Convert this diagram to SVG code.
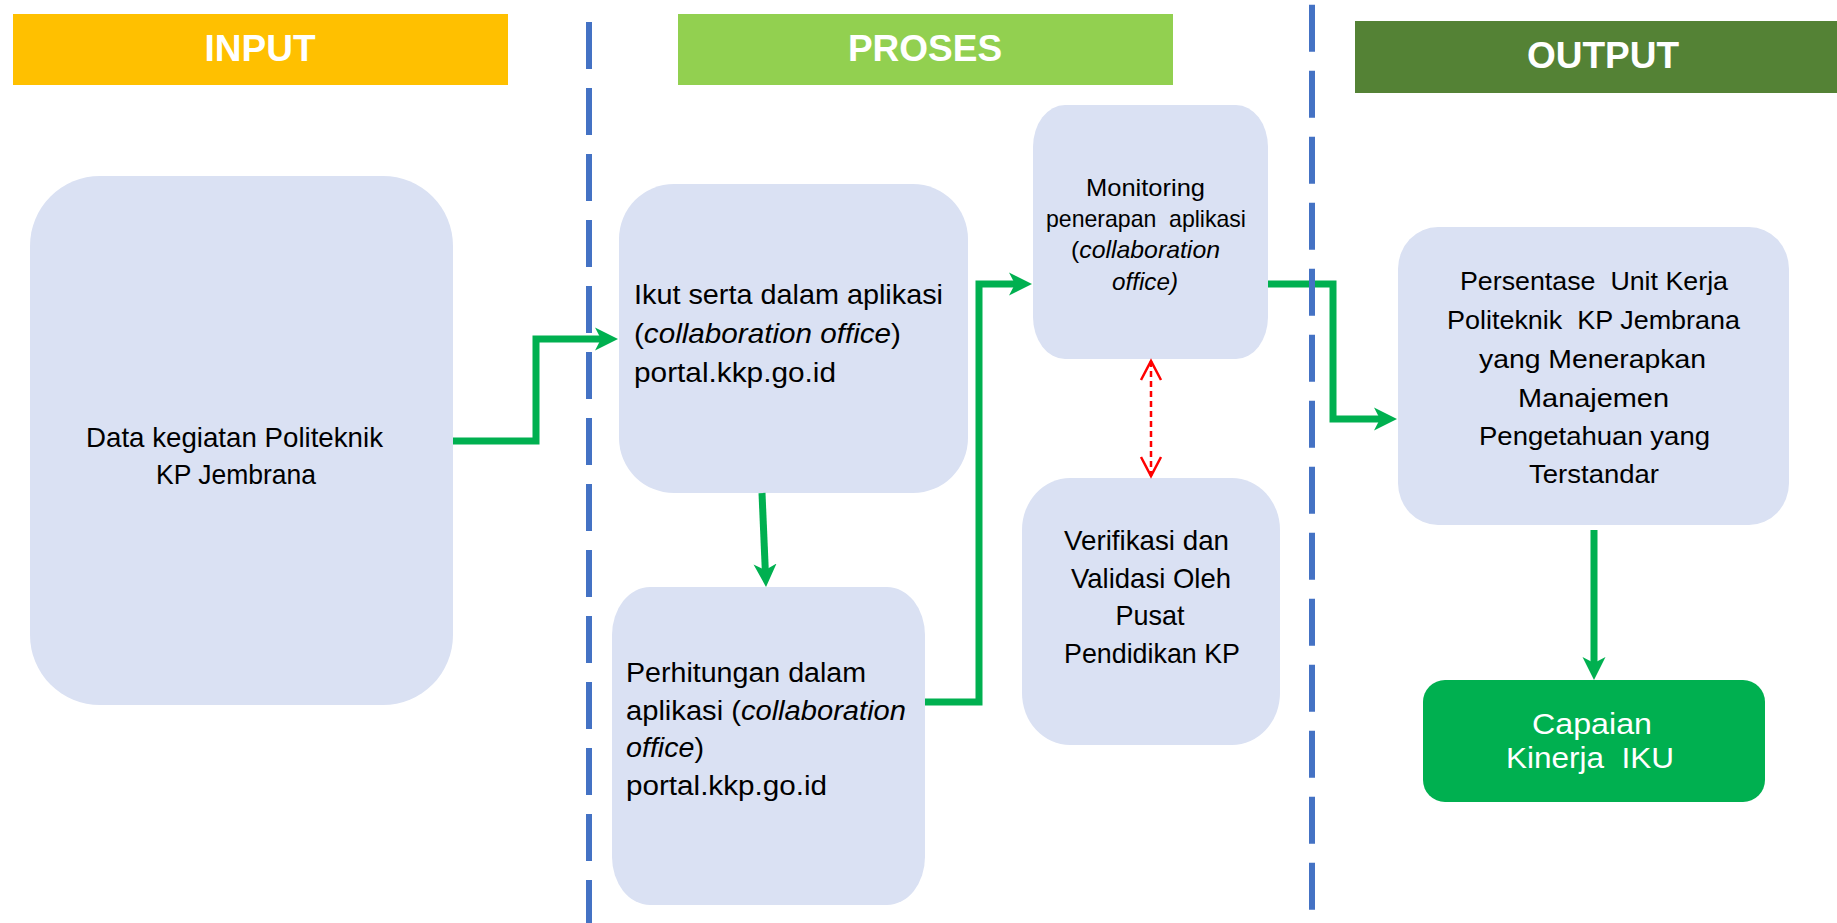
<svg xmlns="http://www.w3.org/2000/svg" width="1837" height="923" viewBox="0 0 1837 923">
<defs>
<style>
.node{fill:#DAE1F3}
.t{font-family:"Liberation Sans",Arial,sans-serif;fill:#000}
.hd{font-family:"Liberation Sans",Arial,sans-serif;font-weight:bold;font-size:37px;fill:#fff;text-anchor:middle}
.c{text-anchor:middle}
.i{font-style:italic}
.w{fill:#fff}
.conn{fill:none;stroke:#00B050;stroke-width:7;stroke-linejoin:miter}
.red{fill:none;stroke:#FF0000;stroke-width:2.5;stroke-dasharray:6 4}
.div{stroke:#4472C4;stroke-width:6;stroke-dasharray:47 19}
</style>
<marker id="ga" markerUnits="userSpaceOnUse" markerWidth="24" markerHeight="24" viewBox="0 0 24 24" refX="11" refY="12" orient="auto">
<path d="M0,0.5 L23,12 L0,23.5 L6,12 Z" fill="#00B050"/>
</marker>
<marker id="ra" markerUnits="userSpaceOnUse" markerWidth="24" markerHeight="24" viewBox="0 0 24 24" refX="20" refY="12" orient="auto-start-reverse">
<path d="M1,2 L20,12 L1,22" fill="none" stroke="#FF0000" stroke-width="2.5"/>
</marker>
</defs>
<rect width="1837" height="923" fill="#fff"/>

<g id="header-input">
<rect x="13" y="14" width="495" height="71" fill="#FFC000"/>
<text class="hd" x="260" y="61">INPUT</text>
</g>
<g id="header-proses">
<rect x="678" y="14" width="495" height="71" fill="#92D050"/>
<text class="hd" x="925" y="61">PROSES</text>
</g>
<g id="header-output">
<rect x="1355" y="21" width="482" height="72" fill="#548235"/>
<text class="hd" x="1603" y="68">OUTPUT</text>
</g>

<g id="node-input">
<rect class="node" x="30" y="176" width="423" height="529" rx="70" ry="70"/>
<text class="t c" font-size="28" x="234.5" y="447" textLength="297" lengthAdjust="spacingAndGlyphs">Data kegiatan Politeknik</text>
<text class="t c" font-size="28" x="236" y="484" textLength="160" lengthAdjust="spacingAndGlyphs">KP Jembrana</text>
</g>

<g id="node-ikut">
<rect class="node" x="619" y="184" width="349" height="309" rx="55" ry="55"/>
<text class="t" font-size="27.5" x="634" y="304" textLength="309" lengthAdjust="spacingAndGlyphs">Ikut serta dalam aplikasi</text>
<text class="t" font-size="27.5" x="634" y="343" textLength="267" lengthAdjust="spacingAndGlyphs">(<tspan class="i">collaboration office</tspan>)</text>
<text class="t" font-size="27.5" x="634" y="382" textLength="202" lengthAdjust="spacingAndGlyphs">portal.kkp.go.id</text>
</g>

<g id="node-perhitungan">
<rect class="node" x="612" y="587" width="313" height="318" rx="38" ry="48"/>
<text class="t" font-size="27" x="626" y="682" textLength="240" lengthAdjust="spacingAndGlyphs">Perhitungan dalam</text>
<text class="t" font-size="27" x="626" y="720" textLength="280" lengthAdjust="spacingAndGlyphs">aplikasi (<tspan class="i">collaboration</tspan></text>
<text class="t" font-size="27" x="626" y="757" textLength="78" lengthAdjust="spacingAndGlyphs"><tspan class="i">office</tspan>)</text>
<text class="t" font-size="27" x="626" y="795" textLength="201" lengthAdjust="spacingAndGlyphs">portal.kkp.go.id</text>
</g>

<g id="node-monitoring">
<rect class="node" x="1033" y="105" width="235" height="254" rx="32" ry="42"/>
<text class="t c" font-size="24" x="1145.5" y="196" textLength="119" lengthAdjust="spacingAndGlyphs">Monitoring</text>
<text class="t c" font-size="24" x="1146" y="227" textLength="200" lengthAdjust="spacingAndGlyphs">penerapan&#160; aplikasi</text>
<text class="t c" font-size="24" x="1145.5" y="258" textLength="149" lengthAdjust="spacingAndGlyphs">(<tspan class="i">collaboration</tspan></text>
<text class="t c i" font-size="24" x="1145" y="290" textLength="66" lengthAdjust="spacingAndGlyphs">office)</text>
</g>

<g id="node-verifikasi">
<rect class="node" x="1022" y="478" width="258" height="267" rx="48" ry="52"/>
<text class="t c" font-size="28" x="1146.5" y="550" textLength="165" lengthAdjust="spacingAndGlyphs">Verifikasi dan</text>
<text class="t c" font-size="28" x="1151" y="588" textLength="160" lengthAdjust="spacingAndGlyphs">Validasi Oleh</text>
<text class="t c" font-size="28" x="1150" y="625" textLength="69" lengthAdjust="spacingAndGlyphs">Pusat</text>
<text class="t c" font-size="28" x="1152" y="663" textLength="176" lengthAdjust="spacingAndGlyphs">Pendidikan KP</text>
</g>

<g id="node-persentase">
<rect class="node" x="1398" y="227" width="391" height="298" rx="40" ry="42"/>
<text class="t c" font-size="26.5" x="1594" y="290" textLength="268" lengthAdjust="spacingAndGlyphs">Persentase&#160; Unit Kerja</text>
<text class="t c" font-size="26.5" x="1593.5" y="329" textLength="293" lengthAdjust="spacingAndGlyphs">Politeknik&#160; KP Jembrana</text>
<text class="t c" font-size="26.5" x="1592.5" y="368" textLength="227" lengthAdjust="spacingAndGlyphs">yang Menerapkan</text>
<text class="t c" font-size="26.5" x="1593.5" y="407" textLength="151" lengthAdjust="spacingAndGlyphs">Manajemen</text>
<text class="t c" font-size="26.5" x="1594.5" y="445" textLength="231" lengthAdjust="spacingAndGlyphs">Pengetahuan yang</text>
<text class="t c" font-size="26.5" x="1594" y="483" textLength="130" lengthAdjust="spacingAndGlyphs">Terstandar</text>
</g>

<g id="node-capaian">
<rect x="1423" y="680" width="342" height="122" rx="22" ry="22" fill="#00B050"/>
<text class="t c w" font-size="30" x="1592" y="734" textLength="120" lengthAdjust="spacingAndGlyphs">Capaian</text>
<text class="t c w" font-size="30" x="1590" y="768" textLength="168" lengthAdjust="spacingAndGlyphs">Kinerja&#160; IKU</text>
</g>

<g id="connectors">
<path class="conn" d="M453,441 H536 V339 H606" marker-end="url(#ga)"/>
<path class="conn" d="M762,493 L765.5,575" marker-end="url(#ga)"/>
<path class="conn" d="M925,702 H979 V284 H1020" marker-end="url(#ga)"/>
<path class="conn" d="M1268,284 H1333 V419 H1385" marker-end="url(#ga)"/>
<path class="conn" d="M1594,530 V668" marker-end="url(#ga)"/>
<path class="red" d="M1151,361 V476" marker-start="url(#ra)" marker-end="url(#ra)"/>
</g>

<g id="dividers">
<line class="div" x1="589" y1="22" x2="589" y2="923"/>
<line class="div" x1="1312" y1="4.7" x2="1312" y2="910"/>
</g>
</svg>
